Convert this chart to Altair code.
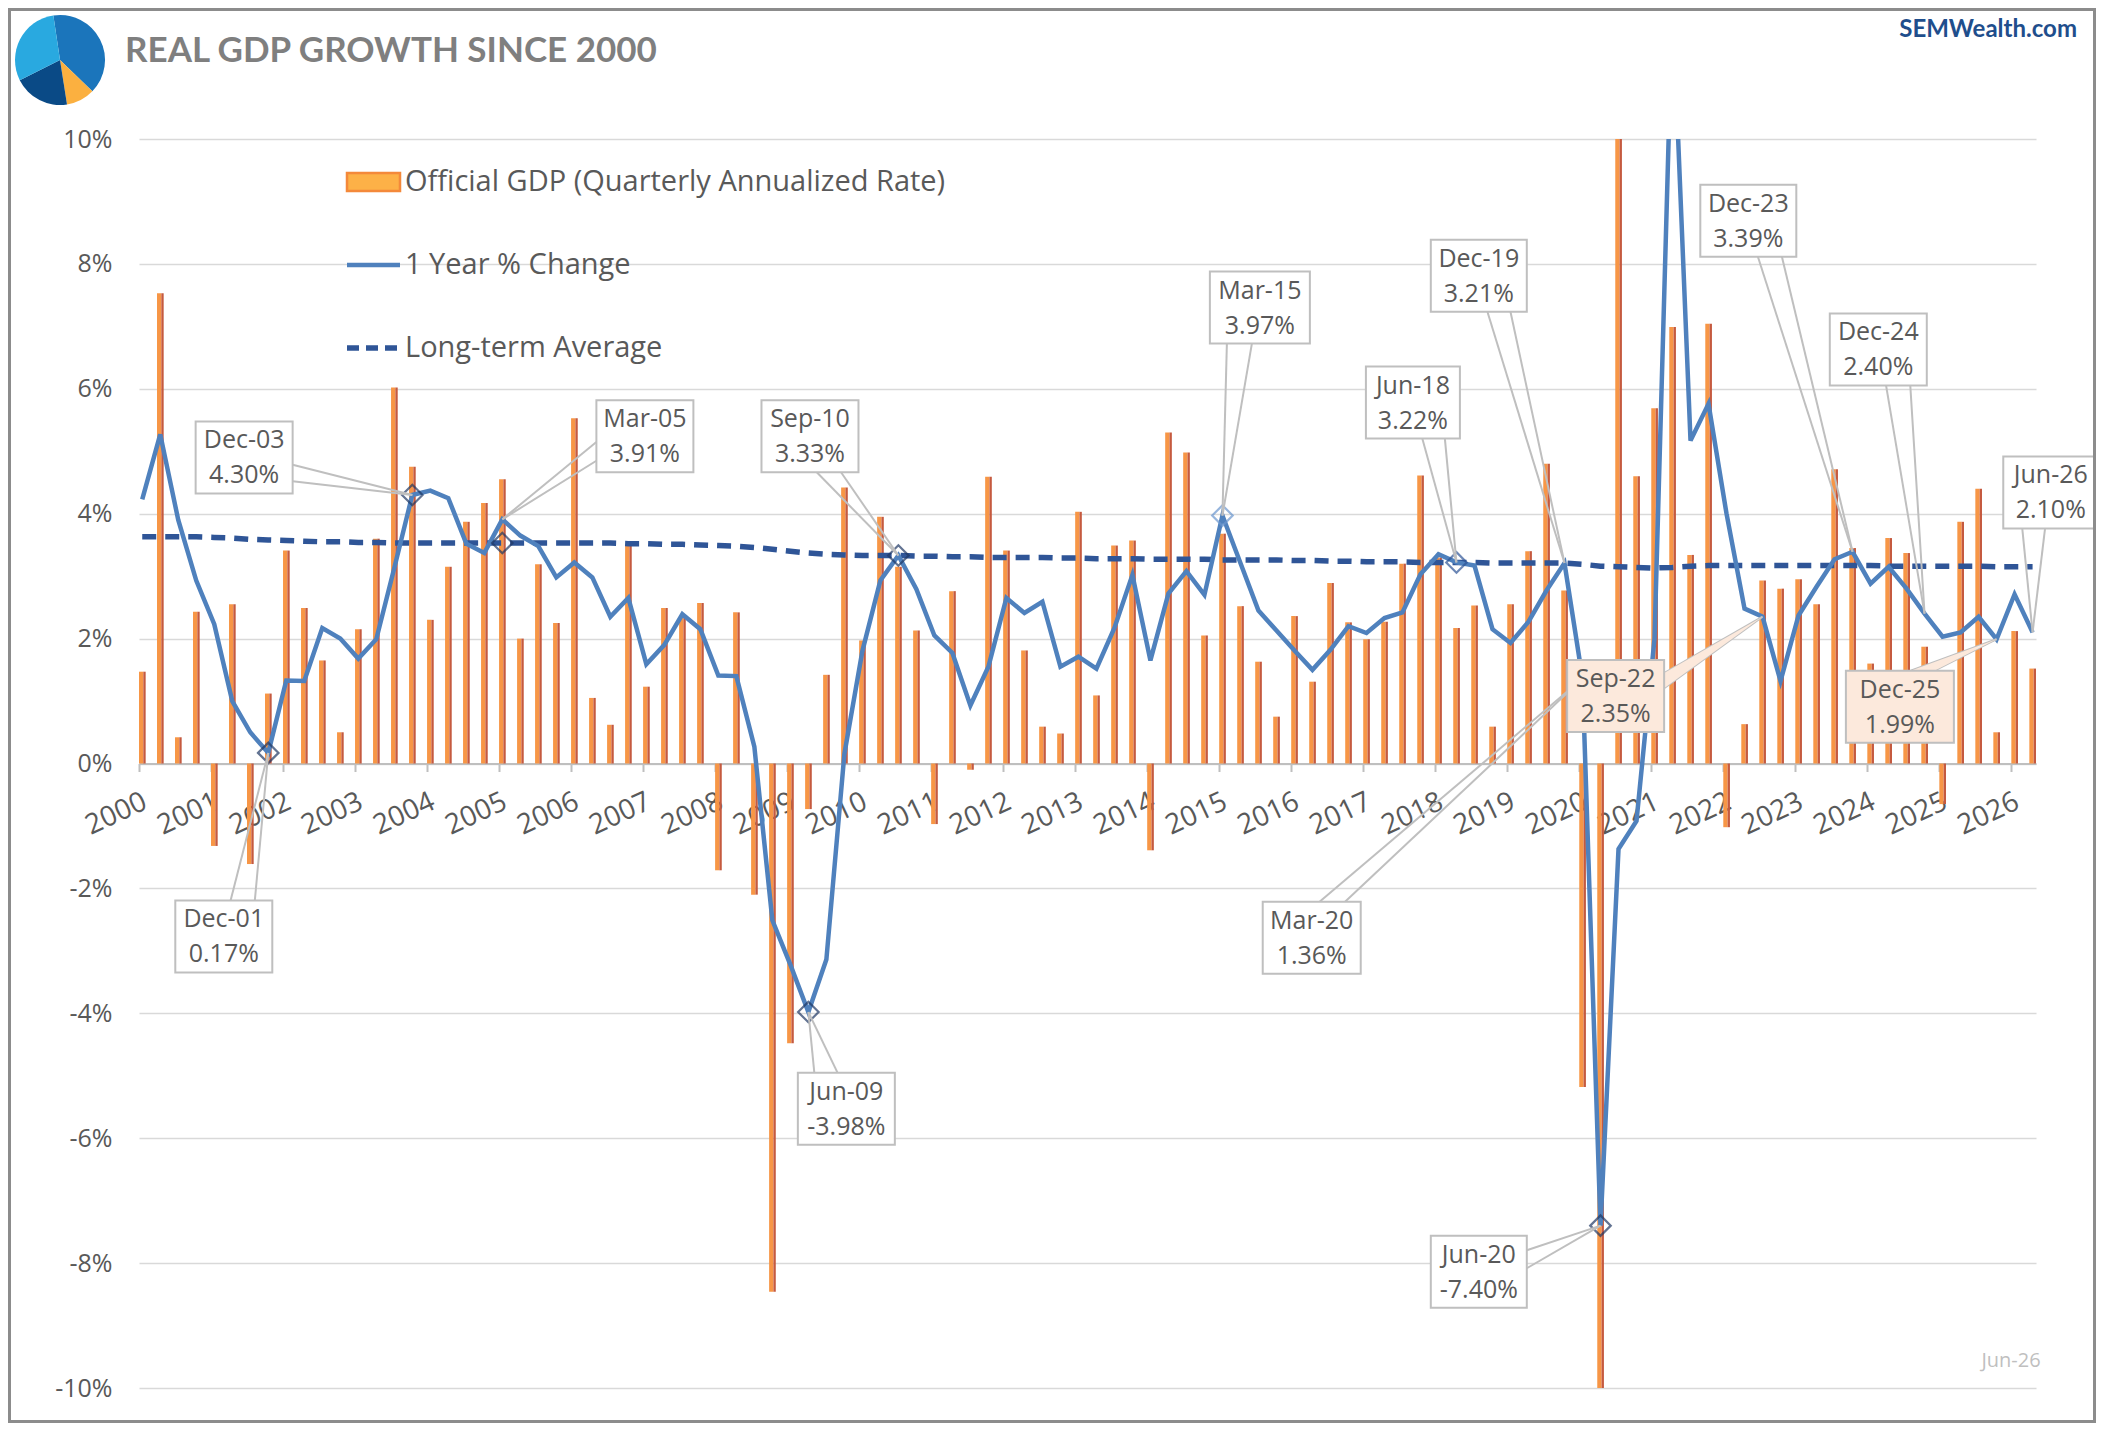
import altair as alt
import pandas as pd

# ---------------- data ----------------
first_year = 2000
gdp_annualized = [
    1.47, 7.53, 0.42, 2.43,
    -1.32, 2.55, -1.61, 1.12,
    3.41, 2.49, 1.65, 0.50,
    2.15, 3.60, 6.02, 4.75,
    2.30, 3.15, 3.87, 4.17,
    4.55, 2.00, 3.19, 2.25,
    5.53, 1.05, 0.62, 3.51,
    1.23, 2.49, 2.35, 2.57,
    -1.71, 2.42, -2.10, -8.46,
    -4.48, -0.73, 1.42, 4.42,
    1.97, 3.95, 3.15, 2.13,
    -0.97, 2.76, -0.10, 4.59,
    3.41, 1.81, 0.59, 0.48,
    4.03, 1.09, 3.49, 3.57,
    -1.39, 5.30, 4.98, 2.05,
    3.68, 2.52, 1.63, 0.75,
    2.36, 1.31, 2.89, 2.26,
    1.99, 2.27, 3.20, 4.61,
    3.30, 2.17, 2.53, 0.59,
    2.55, 3.40, 4.80, 2.77,
    -5.18, -28.00, 34.80, 4.60,
    5.69, 6.99, 3.34, 7.04,
    -1.02, 0.63, 2.93, 2.80,
    2.95, 2.55, 4.71, 3.45,
    1.60, 3.61, 3.37, 1.87,
    -0.65, 3.87, 4.40, 0.50,
    2.12, 1.52,
]
one_year_change = [
    4.23, 5.27, 3.90, 2.93,
    2.23, 1.00, 0.50, 0.17,
    1.33, 1.32, 2.17, 2.00,
    1.68, 1.99, 3.13, 4.30,
    4.37, 4.25, 3.52, 3.37,
    3.91, 3.65, 3.48, 2.98,
    3.22, 2.98, 2.35, 2.65,
    1.59, 1.90, 2.39, 2.15,
    1.41, 1.40, 0.27, -2.51,
    -3.22, -3.98, -3.14, 0.15,
    1.80, 2.93, 3.33, 2.79,
    2.05, 1.77, 0.93, 1.55,
    2.65, 2.41, 2.59, 1.55,
    1.71, 1.52, 2.17, 3.02,
    1.65, 2.72, 3.08, 2.70,
    3.97, 3.21, 2.45, 2.13,
    1.81, 1.50, 1.82, 2.20,
    2.09, 2.33, 2.42, 3.03,
    3.35, 3.22, 3.17, 2.15,
    1.93, 2.27, 2.77, 3.21,
    1.36, -7.40, -1.37, -0.92,
    2.00, 12.20, 5.17, 5.76,
    4.00, 2.48, 2.35, 1.32,
    2.37, 2.83, 3.27, 3.39,
    2.88, 3.15, 2.80, 2.40,
    2.03, 2.10, 2.35, 1.99,
    2.71, 2.10,
]
long_term_avg = [
    3.63, 3.63, 3.63, 3.63,
    3.62, 3.61, 3.59, 3.58,
    3.57, 3.56, 3.55, 3.55,
    3.54, 3.54, 3.53, 3.53,
    3.53, 3.53, 3.53, 3.53,
    3.53, 3.53, 3.53, 3.53,
    3.53, 3.53, 3.53, 3.52,
    3.52, 3.51, 3.51, 3.50,
    3.49, 3.48, 3.46, 3.43,
    3.40, 3.37, 3.35, 3.34,
    3.33, 3.33, 3.33, 3.32,
    3.32, 3.31, 3.31, 3.30,
    3.30, 3.30, 3.30, 3.29,
    3.29, 3.28, 3.28, 3.28,
    3.27, 3.27, 3.27, 3.27,
    3.26, 3.26, 3.26, 3.26,
    3.25, 3.25, 3.24, 3.24,
    3.23, 3.23, 3.23, 3.22,
    3.22, 3.22, 3.22, 3.21,
    3.21, 3.21, 3.21, 3.21,
    3.19, 3.16, 3.15, 3.14,
    3.13, 3.14, 3.16, 3.17,
    3.17, 3.17, 3.17, 3.17,
    3.17, 3.17, 3.17, 3.17,
    3.17, 3.16, 3.16, 3.16,
    3.16, 3.16, 3.16, 3.15,
    3.15, 3.15,
]

# callouts: label, value text, quarter index, value pointed at
callout_dates = ["Dec-01", "Dec-03", "Mar-05", "Sep-10", "Jun-09", "Mar-15", "Jun-18", "Dec-19",
                 "Mar-20", "Jun-20", "Sep-22", "Dec-23", "Dec-24", "Dec-25", "Jun-26"]
callout_texts = ["0.17%", "4.30%", "3.91%", "3.33%", "-3.98%", "3.97%", "3.22%", "3.21%",
                 "1.36%", "-7.40%", "2.35%", "3.39%", "2.40%", "1.99%", "2.10%"]
callout_quarters = [7, 15, 20, 42, 37, 60, 73, 79, 80, 81, 90, 95, 99, 103, 105]
callout_values = [0.17, 4.30, 3.91, 3.33, -3.98, 3.97, 3.22, 3.21, 1.36, -7.40, 2.35, 3.39, 2.40, 1.99, 2.10]

# diamond markers: quarter, value
marker_quarters = [7, 15, 20, 37, 42, 60, 73, 81]
marker_values = [0.17, 4.30, 3.53, -3.98, 3.33, 3.97, 3.22, -7.40]

# ---------------- layout / style ----------------
W, H = 1897, 1249
XMAX = 105.37
QPX = W / XMAX
PPX = H / 20.0
PT_SHIFT = 0.18
BAR_L, BAR_R = 0.24, 0.37
FONT = "Open Sans"
GRAY_TXT = "#595959"

# box layout per callout: box centre (quarter units, % units), width px, wedge side, fractions, fill
callout_layout = [
    (4.71, -2.77, 97, "top", 0.57, 0.82, "white"),
    (5.84, 4.90, 97, "right", 0.60, 0.83, "white"),
    (28.10, 5.24, 97, "left", 0.58, 0.84, "white"),
    (37.27, 5.24, 97, "bottom", 0.57, 0.82, "white"),
    (39.29, -5.53, 97, "top", 0.17, 0.41, "white"),
    (62.26, 7.30, 100, "bottom", 0.17, 0.42, "white"),
    (70.76, 5.78, 94, "bottom", 0.60, 0.84, "white"),
    (74.42, 7.81, 96, "bottom", 0.59, 0.83, "white"),
    (65.14, -2.79, 98, "top", 0.58, 0.84, "white"),
    (74.42, -8.14, 96, "right", 0.20, 0.45, "white"),
    (82.02, 1.08, 97, "right", 0.18, 0.39, "#fce9dc"),
    (89.39, 8.69, 96, "bottom", 0.60, 0.85, "white"),
    (96.61, 6.63, 97, "bottom", 0.58, 0.83, "white"),
    (97.81, 0.91, 108, "top", 0.60, 0.82, "#fce9dc"),
    (106.19, 4.34, 95, "bottom", 0.20, 0.44, "white"),
]
BOX_H = 72

n = len(gdp_annualized)
df = pd.DataFrame({
    "q": list(range(n)),
    "gdp": gdp_annualized,
    "yoy": one_year_change,
    "avg": long_term_avg,
})

xs = alt.Scale(domain=[0, XMAX], nice=False, zero=False)
ys = alt.Scale(domain=[-10, 10], nice=False, zero=False)

x_axis = alt.Axis(
    values=list(range(0, n, 4)), labelExpr=f"{first_year} + datum.value / 4",
    offset=-H / 2, grid=False, title=None,
    domainColor="#bfbfbf", domainWidth=2, tickColor="#bfbfbf", tickWidth=2, tickSize=8,
    labelAngle=335, labelAlign="right", labelBaseline="top", labelPadding=16,
    labelFont=FONT, labelFontSize=28, labelColor=GRAY_TXT, labelOverlap=False, labelFlush=False,
)
y_axis = alt.Axis(
    values=list(range(-10, 11, 2)), labelExpr="datum.value + '%'", title=None,
    grid=True, gridColor="#d9d9d9", gridWidth=1.5, domain=False, ticks=False,
    labelFont=FONT, labelFontSize=25, labelColor=GRAY_TXT, labelPadding=27,
)


def X(field):
    return alt.X(field, scale=xs, axis=x_axis)


def Y(field):
    return alt.Y(field, scale=ys, axis=y_axis)


base = alt.Chart(df)

bars_light = base.transform_calculate(
    x1="datum.q", x2b=f"datum.q + {BAR_L}", z="0"
).mark_rect(color="#f79646", clip=True).encode(
    x=X("x1:Q"), x2="x2b:Q", y=Y("gdp:Q"), y2="z:Q",
)
bars_dark = base.transform_calculate(
    x1=f"datum.q + {BAR_L}", x2b=f"datum.q + {BAR_R}", z="0"
).mark_rect(color="#c55a3f", clip=True).encode(
    x=X("x1:Q"), x2="x2b:Q", y=Y("gdp:Q"), y2="z:Q",
)
avg_line = base.transform_calculate(qx=f"datum.q + {PT_SHIFT}").mark_line(
    color="#2f5597", strokeWidth=5.5, strokeDash=[14, 9], clip=True
).encode(x=X("qx:Q"), y=Y("avg:Q"))
yoy_line = base.transform_calculate(qx=f"datum.q + {PT_SHIFT}").mark_line(
    color="#4f81bd", strokeWidth=4.5, clip=True
).encode(x=X("qx:Q"), y=Y("yoy:Q"))

mk_colors = ["#203864", "#203864", "#203864", "#203864", "#203864", "#6a96cf", "#2f5597", "#203864"]
mk = pd.DataFrame({"q": marker_quarters, "v": marker_values, "c": mk_colors})
markers = alt.Chart(mk).transform_calculate(qx=f"datum.q + {PT_SHIFT}").mark_point(
    shape="diamond", filled=False, size=420, strokeWidth=2.2
).encode(
    x=X("qx:Q"), y=Y("v:Q"),
    stroke=alt.Stroke("c:N", scale=None),
)

# ---- callout geometry ----
boxes, leads, wedge_v, wedge_h = [], [], [], []
for k in range(len(callout_dates)):
    bq, bv, w, side, f1, f2, fill = callout_layout[k]
    hw = w / 2 / QPX
    hh = BOX_H / 2 / PPX
    xl, xr, yb, yt = bq - hw, bq + hw, bv - hh, bv + hh
    px, py = callout_quarters[k] + PT_SHIFT, callout_values[k]
    if side == "top":
        a = [(xl + f * (xr - xl), yt) for f in (f1, f2)]
    elif side == "bottom":
        a = [(xl + f * (xr - xl), yb) for f in (f1, f2)]
    elif side == "left":
        a = [(xl, yt - f * (yt - yb)) for f in (f1, f2)]
    else:
        a = [(xr, yt - f * (yt - yb)) for f in (f1, f2)]
    boxes.append({"id": k, "x": xl, "x2": xr, "y": yb, "y2": yt, "cx": bq, "cy": bv,
                  "fill": fill, "d": callout_dates[k], "t": callout_texts[k]})
    for ax, ay in a:
        leads.append({"x": ax, "y": ay, "x2": px, "y2": py})
    if fill != "white":
        if side in ("left", "right"):
            wedge_v.append({"id": k, "x": a[0][0], "y": a[0][1], "y2": a[1][1], "fill": fill})
            wedge_v.append({"id": k, "x": px, "y": py, "y2": py, "fill": fill})
        else:
            wedge_h.append({"id": k, "y": a[0][1], "x": a[0][0], "x2": a[1][0], "fill": fill})
            wedge_h.append({"id": k, "y": py, "x": px, "x2": px, "fill": fill})

bdf = pd.DataFrame(boxes)
ldf = pd.DataFrame(leads)

lead_rules = alt.Chart(ldf).mark_rule(color="#bfbfbf", strokeWidth=2).encode(
    x=X("x:Q"), x2="x2:Q", y=Y("y:Q"), y2="y2:Q",
)
layers_wedge = []
if wedge_v:
    layers_wedge.append(alt.Chart(pd.DataFrame(wedge_v)).mark_area(orient="vertical").encode(
        x=X("x:Q"), y=Y("y:Q"), y2="y2:Q",
        fill=alt.Fill("fill:N", scale=None), detail="id:N",
    ))
if wedge_h:
    layers_wedge.append(alt.Chart(pd.DataFrame(wedge_h)).mark_area(orient="horizontal").encode(
        y=Y("y:Q"), x=X("x:Q"), x2="x2:Q",
        fill=alt.Fill("fill:N", scale=None), detail="id:N",
    ))
box_rects = alt.Chart(bdf).mark_rect(stroke="#bfbfbf", strokeWidth=2).encode(
    x=X("x:Q"), x2="x2:Q", y=Y("y:Q"), y2="y2:Q",
    fill=alt.Fill("fill:N", scale=None),
)
box_t1 = alt.Chart(bdf).mark_text(font=FONT, fontSize=25, color=GRAY_TXT, dy=-17).encode(
    x=X("cx:Q"), y=Y("cy:Q"), text="d:N")
box_t2 = alt.Chart(bdf).mark_text(font=FONT, fontSize=25, color=GRAY_TXT, dy=18).encode(
    x=X("cx:Q"), y=Y("cy:Q"), text="t:N")

# ---- legend, title, decorations ----
one = alt.Chart(pd.DataFrame({"a": [0]}))
leg_rect = one.mark_rect(fill="#fdb147", stroke="#f4893a", strokeWidth=2.5).encode(
    x=alt.value(208), x2=alt.value(261), y=alt.value(34), y2=alt.value(52))
leg_line = one.mark_rule(color="#4f81bd", strokeWidth=4.5).encode(
    x=alt.value(208), x2=alt.value(261), y=alt.value(126))
leg_dash = one.mark_rule(color="#2f5597", strokeWidth=5.5, strokeDash=[12, 7]).encode(
    x=alt.value(208), x2=alt.value(261), y=alt.value(209))
leg_texts = []
for label, yy in [("Official GDP (Quarterly Annualized Rate)", 43),
                  ("1 Year % Change", 126), ("Long-term Average", 209)]:
    leg_texts.append(one.mark_text(text=label, font=FONT, fontSize=29, color=GRAY_TXT,
                                   align="left", baseline="middle").encode(
        x=alt.value(266), y=alt.value(yy)))

title_txt = one.mark_text(text="REAL GDP GROWTH SINCE 2000", font="Lato", fontWeight="bold",
                          fontSize=35, color="#7f7f7f", align="left", baseline="middle").encode(
    x=alt.value(-14), y=alt.value(-88))
brand_txt = one.mark_text(text="SEMWealth.com", font="Lato", fontWeight="bold", fontSize=24,
                          color="#1f4e8c", align="right", baseline="middle").encode(
    x=alt.value(1938), y=alt.value(-109))
stamp_txt = one.mark_text(text="Jun-26", font=FONT, fontSize=20, color="#bfbfbf",
                          align="center", baseline="middle").encode(
    x=alt.value(1872), y=alt.value(1222))

logo_parts = [
    (6.135, 8.622, "#1b75bb"),
    (2.339, 2.985, "#fbb040"),
    (2.985, 4.248, "#0a4a86"),
    (4.248, 6.135, "#29a9e0"),
]
logo = [one.mark_arc(theta=t0, theta2=t1, radius=45, fill=c).encode(
    x=alt.value(-79), y=alt.value(-79)) for t0, t1, c in logo_parts]

border = one.mark_rect(filled=False, stroke="#8c8c8c", strokeWidth=3).encode(
    x=alt.value(-129.5), x2=alt.value(W + 58.5), y=alt.value(-129.5), y2=alt.value(H + 33.5))

chart = alt.layer(
    bars_light, bars_dark, avg_line, yoy_line, markers,
    lead_rules, *layers_wedge, box_rects, box_t1, box_t2,
    leg_rect, leg_line, leg_dash, *leg_texts,
    title_txt, brand_txt, stamp_txt, *logo, border,
).properties(
    width=W, height=H,
    autosize=alt.AutoSizeParams(type="none"),
    padding={"left": 131, "top": 131, "right": 60, "bottom": 35},
    background="white",
).configure_view(stroke=None)

chart.save("out.html", embed_options={"renderer": "svg", "actions": False})
